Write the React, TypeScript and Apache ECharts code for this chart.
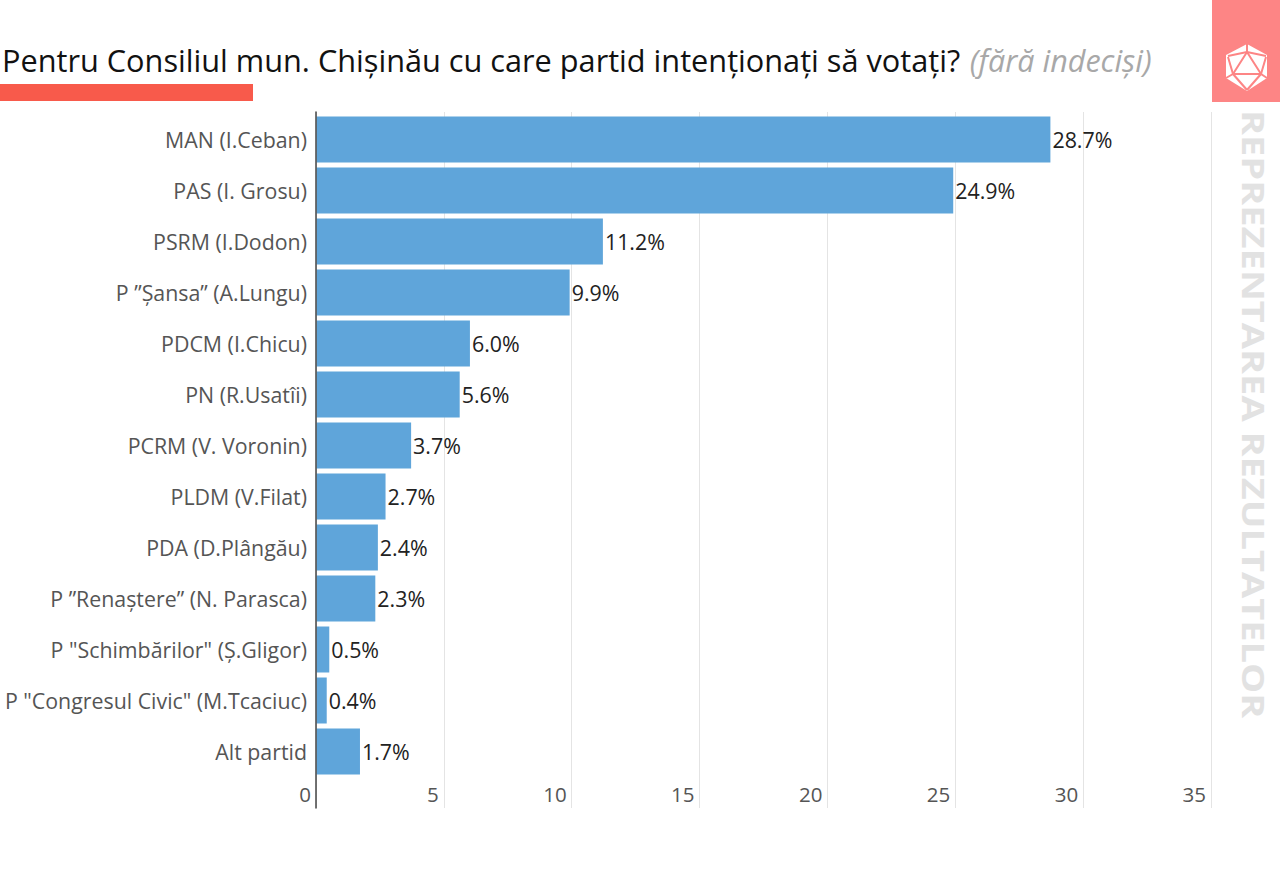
import React, { useEffect, useRef } from "react";
import * as echarts from "echarts";

const categories = ["MAN (I.Ceban)", "PAS (I. Grosu)", "PSRM (I.Dodon)", "P ”Șansa” (A.Lungu)", "PDCM (I.Chicu)", "PN (R.Usatîi)", "PCRM (V. Voronin)", "PLDM (V.Filat)", "PDA (D.Plângău)", "P ”Renaștere” (N. Parasca)", "P \"Schimbărilor\" (Ș.Gligor)", "P \"Congresul Civic\" (M.Tcaciuc)", "Alt partid"];
const values = [28.7, 24.9, 11.2, 9.9, 6.0, 5.6, 3.7, 2.7, 2.4, 2.3, 0.5, 0.4, 1.7];
const titleMain = "Pentru Consiliul mun. Chișinău cu care partid intenționați să votați?";
const titleNote = "(fără indeciși)";
const sideText = "REPREZENTAREA REZULTATELOR";
const FONT = "'Open Sans', sans-serif";
const SALMON = "#fd8585";

export default function App() {
  const ref = useRef<HTMLDivElement>(null);
  useEffect(() => {
    const chart = echarts.init(ref.current!, null, { renderer: "svg" });
    const line = (x1: number, y1: number, x2: number, y2: number) => ({
      type: "line", shape: { x1, y1, x2, y2 }, style: { stroke: SALMON, lineWidth: 2 },
    });
    chart.setOption({
      animation: false,
      backgroundColor: "#fff",
      textStyle: { fontFamily: FONT },
      title: {
        left: 2, top: 40, padding: 0,
        text: `{a|${titleMain}} {b|${titleNote}}`,
        textStyle: {
          fontWeight: "normal",
          rich: {
            a: { fontFamily: FONT, fontWeight: "normal", fontSize: 30.7, color: "#111", lineHeight: 40 },
            b: { fontFamily: FONT, fontWeight: "normal", fontSize: 30.5, color: "#a8a8a8", fontStyle: "italic", lineHeight: 40, padding: [0, 0, 0, 5] },
          },
        },
      },
      grid: [
        { left: 316.5, top: 114, width: 895, height: 663 },
        { left: 316, top: 112, width: 895, height: 696 },
      ],
      xAxis: [
        { gridIndex: 0, type: "value", min: 0, max: 35, interval: 5, show: false },
        {
          gridIndex: 1, type: "value", min: 0, max: 35, interval: 5, position: "bottom",
          axisLine: { show: false }, axisTick: { show: false },
          splitLine: { show: true, lineStyle: { color: "#e4e4e4", width: 1 } },
          axisLabel: { inside: true, margin: 4, fontSize: 20.5, color: "#555", fontFamily: FONT, align: "right", padding: [0, 5, 0, 0] },
        },
      ],
      yAxis: [
        {
          gridIndex: 0, type: "category", data: categories, inverse: true,
          axisLine: { show: false }, axisTick: { show: false },
          axisLabel: { margin: 9.5, fontSize: 21.35, color: "#555", fontFamily: FONT },
        },
        {
          gridIndex: 1, type: "value", min: 0, max: 1, z: 5,
          axisLine: { show: true, onZero: false, lineStyle: { color: "#444", width: 1.5 } },
          axisTick: { show: false }, axisLabel: { show: false }, splitLine: { show: false },
        },
      ],
      series: [
        {
          type: "bar", xAxisIndex: 0, yAxisIndex: 0, data: values, barWidth: 46,
          itemStyle: { color: "#5fa5da" },
          label: {
            show: true, position: "right", distance: 2, fontSize: 21.4, color: "#222", fontFamily: FONT,
            formatter: (p: any) => `${p.value.toFixed(1)}%`,
          },
        },
      ],
      graphic: [
        { type: "rect", shape: { x: 0, y: 84, width: 253, height: 17 }, style: { fill: "#f85a4b" } },
        { type: "rect", shape: { x: 1212, y: 0, width: 68, height: 102 }, style: { fill: SALMON } },
        { type: "polygon", shape: { points: [[1247, 44], [1267, 55], [1267, 78], [1247, 91], [1226, 78], [1226, 55]] }, style: { fill: "#fff" } },
        { type: "polygon", shape: { points: [[1247, 52], [1261, 74], [1233, 74]] }, style: { fill: "#fff", stroke: SALMON, lineWidth: 2 } },
        line(1247, 44, 1247, 52), line(1247, 52, 1228, 56), line(1247, 52, 1266, 56), line(1233, 74, 1226, 78), line(1261, 74, 1267, 78),
        line(1233, 74, 1228, 57), line(1261, 74, 1266, 57), line(1233, 74, 1247, 90), line(1261, 74, 1247, 90),
        {
          type: "text", x: 1254, y: 110, rotation: -Math.PI / 2, scaleX: 1.267,
          style: { text: sideText, fontFamily: FONT, fontWeight: "bold", fontSize: 30, fill: "#e2e2e2", align: "left", verticalAlign: "middle" },
        },
      ],
    });
    return () => chart.dispose();
  }, []);
  return <div ref={ref} style={{ position: "absolute", left: 0, top: 0, width: 1280, height: 885 }} />;
}
